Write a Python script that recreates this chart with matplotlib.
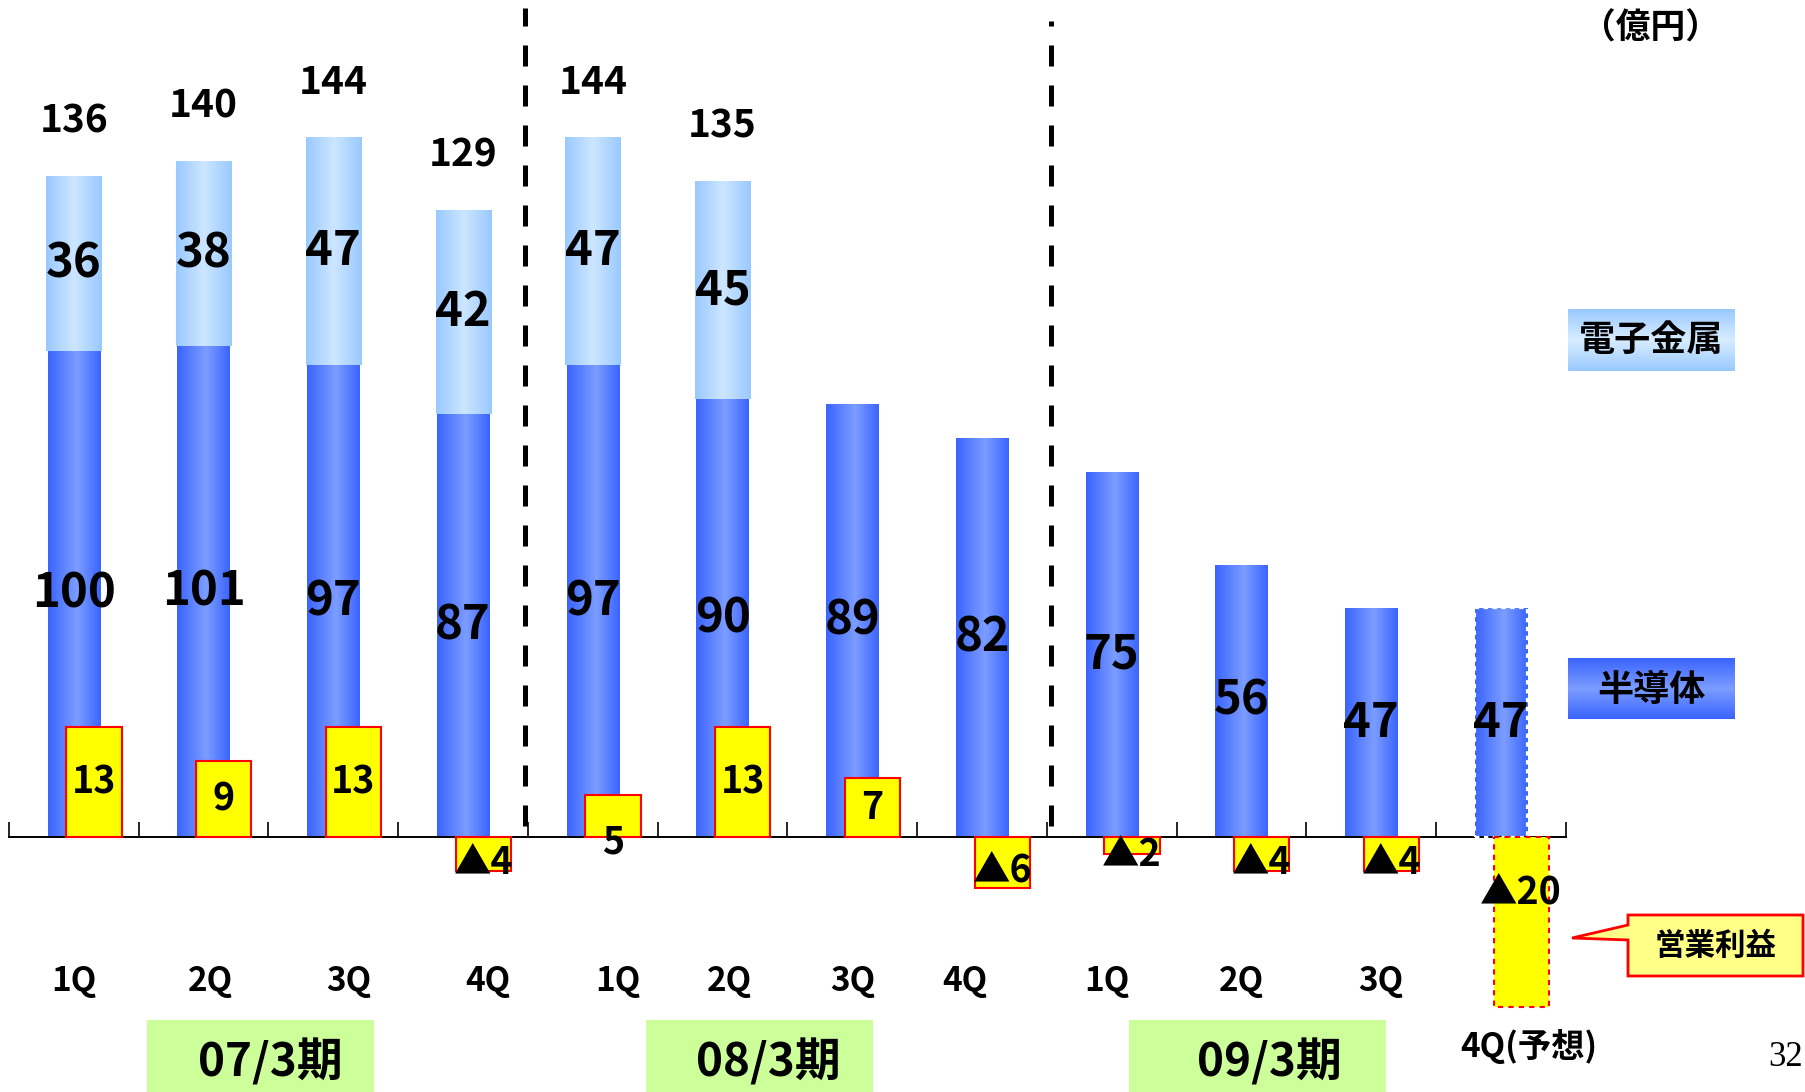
import numpy as np
import matplotlib
matplotlib.use('Agg')
import matplotlib.pyplot as plt
from matplotlib.colors import LinearSegmentedColormap
from matplotlib.patches import Rectangle, Polygon

# quarterly sales (億円) and operating profit
quarters = ['1Q', '2Q', '3Q', '4Q', '1Q', '2Q', '3Q', '4Q', '1Q', '2Q', '3Q', '4Q(予想)']
periods = ['07/3期', '08/3期', '09/3期']
semis = [100, 101, 97, 87, 97, 90, 89, 82, 75, 56, 47, 47]       # 半導体
metals = [36, 38, 47, 42, 47, 45]                                # 電子金属 (first six quarters)
totals = [136, 140, 144, 129, 144, 135]
op_profit = [13, 9, 13, -4, 5, 13, 7, -6, -2, -4, -4, -20]       # 営業利益

plt.rcParams['font.family'] = ['Noto Sans CJK JP', 'DejaVu Sans']
NUM = dict(fontweight='bold')

W, H = 1805, 1092
fig = plt.figure(figsize=(W / 100, H / 100), dpi=100)
ax = fig.add_axes([0, 0, 1, 1])
ax2 = ax.twinx()

XLIM = (-0.569, 13.342)
YLIM = (-52.5, 172.2)
Y2LIM = (-30.0, 98.5)

dark_cmap = LinearSegmentedColormap.from_list(
    'dark', [(0, '#3a64ff'), (0.55, '#7c9dff'), (1, '#3a64ff')])
light_cmap = LinearSegmentedColormap.from_list(
    'light', [(0, '#99c9ff'), (0.5, '#cde6ff'), (1, '#99c9ff')])


def fill_gradient(axis, patch, cmap, vertical=False):
    x0, y0 = patch.get_x(), patch.get_y()
    w, h = patch.get_width(), patch.get_height()
    g = np.linspace(0, 1, 256)
    g = g.reshape(-1, 1) if vertical else g.reshape(1, -1)
    im = axis.imshow(g, cmap=cmap, extent=[x0, x0 + w, y0, y0 + h],
                     aspect='auto', interpolation='bilinear',
                     zorder=patch.get_zorder() + 0.01)
    im.set_clip_path(patch)


x = np.arange(len(quarters))
n_m = len(metals)

semi_bars = ax.bar(x, semis, width=0.405, color='#5a80ff', lw=0, zorder=2)
for p in semi_bars:
    fill_gradient(ax, p, dark_cmap)
metal_bars = ax.bar(x[:n_m], metals, width=0.425, bottom=semis[:n_m],
                    color='#b5d8ff', lw=0, zorder=2)
for p in metal_bars:
    fill_gradient(ax, p, light_cmap)
# forecast quarter outlined with a dashed edge
ax.bar(x[-1], semis[-1], width=0.405, fill=False, edgecolor='white',
       lw=1.6, linestyle=(0, (2, 2)), zorder=3)

for xi, v in zip(x, semis):
    ax.text(xi, v / 2, str(v), ha='center', va='center', fontsize=34, zorder=5, **NUM)
for xi, s, m, t in zip(x, semis, metals, totals):
    ax.text(xi, s + m / 2, str(m), ha='center', va='center', fontsize=34, zorder=5, **NUM)
    ax.text(xi, s + m + 11.3, str(t), ha='center', va='center', fontsize=28, zorder=5, **NUM)

# period separators
ax.vlines([3.48], 2.3, 170.6, colors='black', lw=3.6, linestyles=[(0, (4.2, 3.8))])
ax.vlines([7.53], 2.3, 167.9, colors='black', lw=3.6, linestyles=[(0, (4.2, 3.8))])

# baseline with category ticks
for s in ['top', 'left', 'right']:
    ax.spines[s].set_visible(False)
ax.spines['bottom'].set_position(('data', 0))
ax.spines['bottom'].set_bounds(-0.5, 11.5)
ax.spines['bottom'].set_linewidth(1.4)
ax.set_xticks(np.arange(-0.5, 12, 1))
ax.tick_params(axis='x', direction='in', length=10.5, width=1.2, labelbottom=False)
ax.set_yticks([])

label_x = [0.0, 1.05, 2.12, 3.19, 4.19, 5.05, 6.0, 6.87, 7.96, 9.0, 10.07]
for lx, q in zip(label_x, quarters[:-1]):
    ax.text(lx, -29.8, q, ha='center', va='center', fontsize=24, fontweight='bold')
ax.text(11.21, -43.2, quarters[-1], ha='center', va='center', fontsize=24,
        fontweight='bold')

# operating profit boxes on their own scale
op_bars = ax2.bar(x + 0.155, op_profit, width=0.425, color='#ffff00',
                  edgecolor='#ff0000', lw=1.5, zorder=2)
op_bars[-1].set_linestyle((0, (2.5, 2.5)))
for xi, v in zip(x + 0.155, op_profit):
    if v >= 6:
        ly = v / 2
    elif v > 0:
        ly = -0.55
    else:
        ly = max(v / 2 - 1.0, -6.6)
    txt = str(v) if v > 0 else '▲' + str(-v)
    ax2.text(xi, ly, txt, ha='center', va='center', fontsize=27, zorder=5, **NUM)
ax2.set_yticks([])
for s in ax2.spines.values():
    s.set_visible(False)

# legend boxes, period boxes and notes in pixel space
deco = fig.add_axes([0, 0, 1, 1])
deco.patch.set_visible(False)
deco.axis('off')

metal_key = Rectangle((1568, 309), 167, 62, color='#b5d8ff', lw=0)
deco.add_patch(metal_key)
fill_gradient(deco, metal_key, LinearSegmentedColormap.from_list(
    'mk', [(0, '#99c9ff'), (0.5, '#d8edff'), (1, '#99c9ff')]), vertical=True)
deco.text(1651, 340, '電子金属', ha='center', va='center', fontsize=26,
          fontweight='bold', zorder=5)

semi_key = Rectangle((1568, 658), 167, 61, color='#5a80ff', lw=0)
deco.add_patch(semi_key)
fill_gradient(deco, semi_key, LinearSegmentedColormap.from_list(
    'sk', [(0, '#3a64ff'), (0.5, '#7c9dff'), (1, '#3a64ff')]), vertical=True)
deco.text(1651, 690, '半導体', ha='center', va='center', fontsize=26,
          fontweight='bold', zorder=5)

callout = Polygon([(1628, 915), (1803, 915), (1803, 976), (1628, 976),
                   (1628, 940), (1572, 938), (1628, 925)], closed=True,
                  facecolor='#ffff88', edgecolor='#ff0000', lw=2)
deco.add_patch(callout)
deco.text(1716, 946, '営業利益', ha='center', va='center', fontsize=22,
          fontweight='bold')

for (x0, x1, tx), name in zip([(147, 374, 270), (646, 873, 768), (1129, 1386, 1269)],
                              periods):
    deco.add_patch(Rectangle((x0, 1020), x1 - x0, 80, color='#ccff99', lw=0))
    deco.text(tx, 1063, name, ha='center', va='center', fontsize=33, **NUM)

deco.text(1650, 28, '（億円）', ha='center', va='center', fontsize=25, fontweight='bold')
deco.text(1786, 1057, '32', ha='center', va='center', fontsize=25,
          family='Liberation Serif')

ax.set_xlim(*XLIM)
ax.set_ylim(*YLIM)
ax2.set_ylim(*Y2LIM)
deco.set_xlim(0, W)
deco.set_ylim(H, 0)

fig.savefig('out.png', dpi=100)
